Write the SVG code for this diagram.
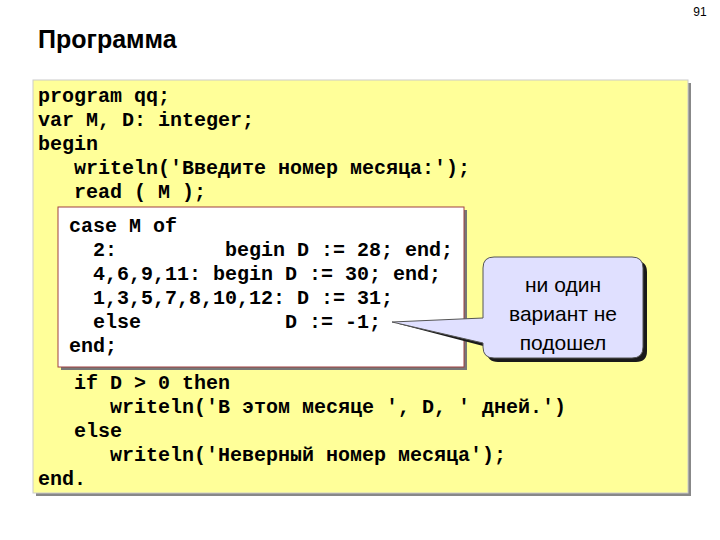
<svg xmlns="http://www.w3.org/2000/svg" width="720" height="540" viewBox="0 0 720 540">
<style>
.c{font-family:'Liberation Mono','DejaVu Sans Mono',monospace;font-weight:bold;font-size:20px;fill:#000;white-space:pre}
.s{font-family:'Liberation Sans',Arial,sans-serif;font-size:21px;fill:#000;text-anchor:middle}
</style>
<rect width="720" height="540" fill="#fff"/>
<text x="700" y="16" font-family="Liberation Sans,Arial,sans-serif" font-size="12" text-anchor="middle">91</text>
<text x="38" y="48" font-family="Liberation Sans,Arial,sans-serif" font-size="25" font-weight="bold">Программа</text>
<g id="program">
<rect x="36" y="83" width="655" height="413" fill="#888"/>
<rect x="33" y="80" width="655" height="413" fill="#ffff99" stroke="#ccc" stroke-width="1"/>
<text class="c" x="38" y="102">program qq;</text>
<text class="c" x="38" y="126">var M, D: integer;</text>
<text class="c" x="38" y="150">begin</text>
<text class="c" x="38" y="174">   writeln('Введите номер месяца:');</text>
<text class="c" x="38" y="198">   read ( M );</text>
<text class="c" x="38" y="389">   if D &gt; 0 then</text>
<text class="c" x="38" y="413">      writeln('В этом месяце ', D, ' дней.')</text>
<text class="c" x="38" y="437">   else</text>
<text class="c" x="38" y="461">      writeln('Неверный номер месяца');</text>
<text class="c" x="38" y="485">end.</text>
</g>
<g id="case">
<rect x="61" y="210" width="406" height="160" fill="#777"/>
<rect x="58" y="207" width="406" height="160" fill="#fff" stroke="#a04040" stroke-width="1"/>
<text class="c" x="69" y="232">case M of</text>
<text class="c" x="69" y="256">  2:         begin D := 28; end;</text>
<text class="c" x="69" y="280">  4,6,9,11: begin D := 30; end;</text>
<text class="c" x="69" y="304">  1,3,5,7,8,10,12: D := 31;</text>
<text class="c" x="69" y="328">  else            D := -1;</text>
<text class="c" x="69" y="352">end;</text>
</g>
<g id="callout">
<path d="M496,259 H634 Q645,259 645,270 V349 Q645,360 634,360 H496 Q485,360 485,349 V345 L397,322 L485,320 V270 Q485,259 496,259 Z" fill="#1a1a1a" transform="translate(2,2)"/>
<path d="M494,257 H632 Q643,257 643,268 V347 Q643,358 632,358 H494 Q483,358 483,347 V343 L392,322 L483,318 V268 Q483,257 494,257 Z" fill="#e0e0ff" stroke="#555" stroke-width="1"/>
<text class="s" x="563" y="292">ни один</text>
<text class="s" x="563" y="321">вариант не</text>
<text class="s" x="563" y="350">подошел</text>
</g>
</svg>
